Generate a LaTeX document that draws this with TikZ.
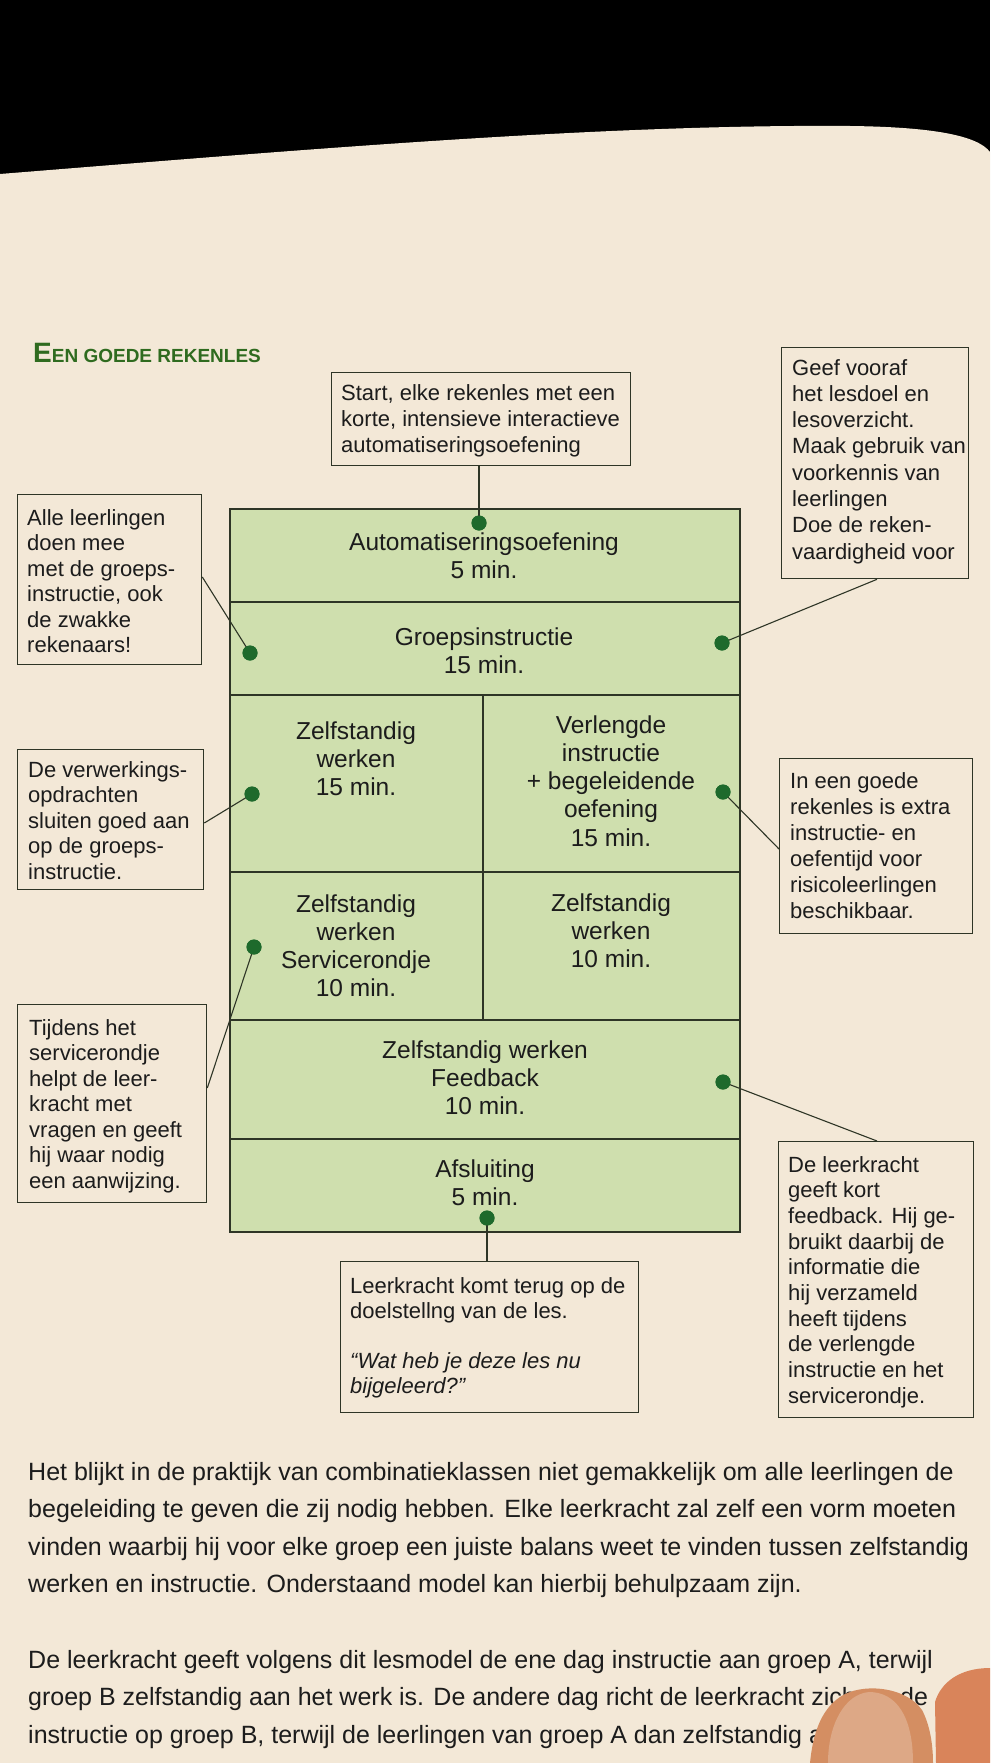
\documentclass[tikz,border=0pt]{standalone}
\usepackage{fontspec}
\setmainfont{Liberation Sans}
\usetikzlibrary{calc}
\definecolor{page}{HTML}{F3E8D7}
\definecolor{greenfill}{HTML}{CFDFAE}
\definecolor{linec}{HTML}{2E3526}
\definecolor{dotc}{HTML}{1E6A2C}
\definecolor{titlec}{HTML}{2F6B1F}
\definecolor{ink}{HTML}{1C1C1C}
\definecolor{skin}{HTML}{D48E62}
\definecolor{skinb}{HTML}{D9845A}
\definecolor{nail}{HTML}{DDA886}
\newcommand{\lft}[1]{\begin{tabular}[t]{@{}l@{}}#1\end{tabular}}
\newcommand{\ctr}[1]{\begin{tabular}[t]{@{}c@{}}#1\end{tabular}}
\begin{document}
\begin{tikzpicture}[x=1pt,y=-1pt,
  callbox/.style={draw=linec, line width=1.3pt, inner sep=0pt, anchor=north west},
  calltxt/.style={inner sep=0pt, anchor=base west, text=ink, font={\fontsize{22}{25.5}\selectfont}},
  blocktxt/.style={inner sep=0pt, anchor=base, text=ink, font={\fontsize{24.5}{28.3}\selectfont}},
  bodytxt/.style={inner sep=0pt, anchor=base west, text=ink, font={\fontsize{25}{37.5}\selectfont}},
  gdot/.style={circle, fill=dotc, inner sep=0pt, minimum size=15pt},
  conn/.style={draw=linec, line width=1.1pt},
  blockline/.style={draw=linec, line width=1.4pt},
]
% background and page
\fill[black] (0,0) rectangle (990,1763);
\fill[page] (0,174) .. controls (300,150) and (600,124) .. (850,126) .. controls (935,127) and (978,136) .. (990,152) -- (990,1763) -- (0,1763) -- cycle;
\useasboundingbox (0,0) rectangle (990,1763);

% title
\node[anchor=base west, inner sep=0pt, text=titlec] (title) at (33,362)
  {\bfseries\fontsize{28}{28}\selectfont E\fontsize{19}{19}\selectfont EN GOEDE REKENLES};

% green lesson block
\fill[greenfill] (230,509) rectangle (740,1232);
\draw[blockline] (230,509) rectangle (740,1232);
\draw[blockline] (230,602) -- (740,602);
\draw[blockline] (230,695) -- (740,695);
\draw[blockline] (230,872) -- (740,872);
\draw[blockline] (230,1020) -- (740,1020);
\draw[blockline] (230,1139) -- (740,1139);
\draw[blockline] (483,695) -- (483,1020);

\node[blocktxt] (b1) at (484,550) {\ctr{Automatiseringsoefening\\5 min.}};
\node[blocktxt] (b2) at (484,645) {\ctr{Groepsinstructie\\15 min.}};
\node[blocktxt] (b3l) at (356,739) {\ctr{Zelfstandig\\werken\\15 min.}};
\node[blocktxt] (b3r) at (611,733) {\ctr{Verlengde\\instructie\\+ begeleidende\\oefening\\15 min.}};
\node[blocktxt] (b4l) at (356,912) {\ctr{Zelfstandig\\werken\\Servicerondje\\10 min.}};
\node[blocktxt] (b4r) at (611,911) {\ctr{Zelfstandig\\werken\\10 min.}};
\node[blocktxt] (b5) at (485,1058) {\ctr{Zelfstandig werken\\Feedback\\10 min.}};
\node[blocktxt] (b6) at (485,1177) {\ctr{Afsluiting\\5 min.}};

% callout boxes
\node[callbox, minimum width=299pt, minimum height=93pt] (cstart) at (331,372) {};
\node[calltxt, font={\fontsize{22}{26}\selectfont}] (tstart) at (341,400)
  {\lft{Start, elke rekenles met een\\korte, intensieve interactieve\\automatiseringsoefening}};

\node[callbox, minimum width=187pt, minimum height=231pt] (cgeef) at (781,347) {};
\node[calltxt, font={\fontsize{22}{26.3}\selectfont}] (tgeef) at (792,375)
  {\lft{Geef vooraf\\het lesdoel en\\lesoverzicht.\\Maak gebruik van\\voorkennis van\\leerlingen\\Doe de reken-\\vaardigheid voor}};

\node[callbox, minimum width=184pt, minimum height=170pt] (calle) at (17,494) {};
\node[calltxt] (talle) at (27,525)
  {\lft{Alle leerlingen\\doen mee\\met de groeps-\\instructie, ook\\de zwakke\\rekenaars!}};

\node[callbox, minimum width=186pt, minimum height=140pt] (cverw) at (17,749) {};
\node[calltxt] (tverw) at (28,777)
  {\lft{De verwerkings-\\opdrachten\\sluiten goed aan\\op de groeps-\\instructie.}};

\node[callbox, minimum width=189pt, minimum height=198pt] (ctijd) at (17,1004) {};
\node[calltxt] (ttijd) at (29,1035)
  {\lft{Tijdens het\\servicerondje\\helpt de leer-\\kracht met\\vragen en geeft\\hij waar nodig\\een aanwijzing.}};

\node[callbox, minimum width=193pt, minimum height=175pt] (cext) at (779,758) {};
\node[calltxt, font={\fontsize{22}{26}\selectfont}] (text) at (790,788)
  {\lft{In een goede\\rekenles is extra\\instructie- en\\oefentijd voor\\risicoleerlingen\\beschikbaar.}};

\node[callbox, minimum width=195pt, minimum height=276pt] (cfeed) at (778,1141) {};
\node[calltxt, font={\fontsize{22}{25.7}\selectfont}] (tfeed) at (788,1172)
  {\lft{De leerkracht\\geeft kort\\feedback. Hij ge-\\bruikt daarbij de\\informatie die\\hij verzameld\\heeft tijdens\\de verlengde\\instructie en het\\servicerondje.}};

\node[callbox, minimum width=298pt, minimum height=151pt] (cslot) at (340,1261) {};
\node[calltxt, font={\fontsize{22}{25}\selectfont}] (tslot) at (350,1293)
  {\lft{Leerkracht komt terug op de\\doelstellng van de les.\\ \\\itshape “Wat heb je deze les nu\\\itshape bijgeleerd?”}};

% dots
\node[gdot] (d1) at (479,523) {};
\node[gdot] (d2) at (250,653) {};
\node[gdot] (d3) at (722,643) {};
\node[gdot] (d4) at (252,794) {};
\node[gdot] (d5) at (723,792) {};
\node[gdot] (d6) at (254,947) {};
\node[gdot] (d7) at (723,1082) {};
\node[gdot] (d8) at (487,1218) {};

% connector anchor points on boxes
\coordinate (e1) at (d1 |- cstart.south);
\coordinate (e2) at ($(calle.north east)+(0,83)$);
\coordinate (e3) at ($(cgeef.south west)+(96,0)$);
\coordinate (e4) at ($(cverw.north east)+(0,74)$);
\coordinate (e5) at ($(cext.north west)+(0,91)$);
\coordinate (e6) at ($(ctijd.north east)+(0,84)$);
\coordinate (e7) at ($(cfeed.north west)+(99,0)$);
\coordinate (e8) at (d8 |- cslot.north);

\draw[conn] (e1) -- (d1.center);
\draw[conn] (e2) -- (d2.center);
\draw[conn] (e3) -- (d3.center);
\draw[conn] (e4) -- (d4.center);
\draw[conn] (e5) -- (d5.center);
\draw[conn] (e6) -- (d6.center);
\draw[conn] (e7) -- (d7.center);
\draw[conn] (e8) -- (d8.center);
\foreach \d in {d1,d2,d3,d4,d5,d6,d7,d8} \fill[dotc] (\d) circle (7.5pt);

% body text
\node[bodytxt] (p1) at (28,1480)
  {\lft{Het blijkt in de praktijk van combinatieklassen niet gemakkelijk om alle leerlingen de\\begeleiding te geven die zij nodig hebben. Elke leerkracht zal zelf een vorm moeten\\vinden waarbij hij voor elke groep een juiste balans weet te vinden tussen zelfstandig\\werken en instructie. Onderstaand model kan hierbij behulpzaam zijn.}};
\node[bodytxt] (p2) at (28,1668)
  {\lft{De leerkracht geeft volgens dit lesmodel de ene dag instructie aan groep A, terwijl\\groep B zelfstandig aan het werk is. De andere dag richt de leerkracht zich\\instructie op groep B, terwijl de leerlingen van groep A dan zelfstandig aa}};
\node[bodytxt] (p2b) at (900,1705.5) {de};

% fingers holding the page
\fill[skin] (810,1763) .. controls (813,1732) and (822,1706) .. (845,1694) .. controls (868,1683) and (907,1688) .. (922,1710) .. controls (930,1725) and (933,1745) .. (933,1763) -- cycle;
\fill[nail] (828,1763) .. controls (828,1724) and (845,1694) .. (869,1692) .. controls (896,1692) and (913,1716) .. (913,1763) -- cycle;
\fill[skinb] (936,1763) -- (935,1702) .. controls (941,1682) and (960,1668) .. (990,1668) -- (990,1763) -- cycle;
\end{tikzpicture}
\end{document}
